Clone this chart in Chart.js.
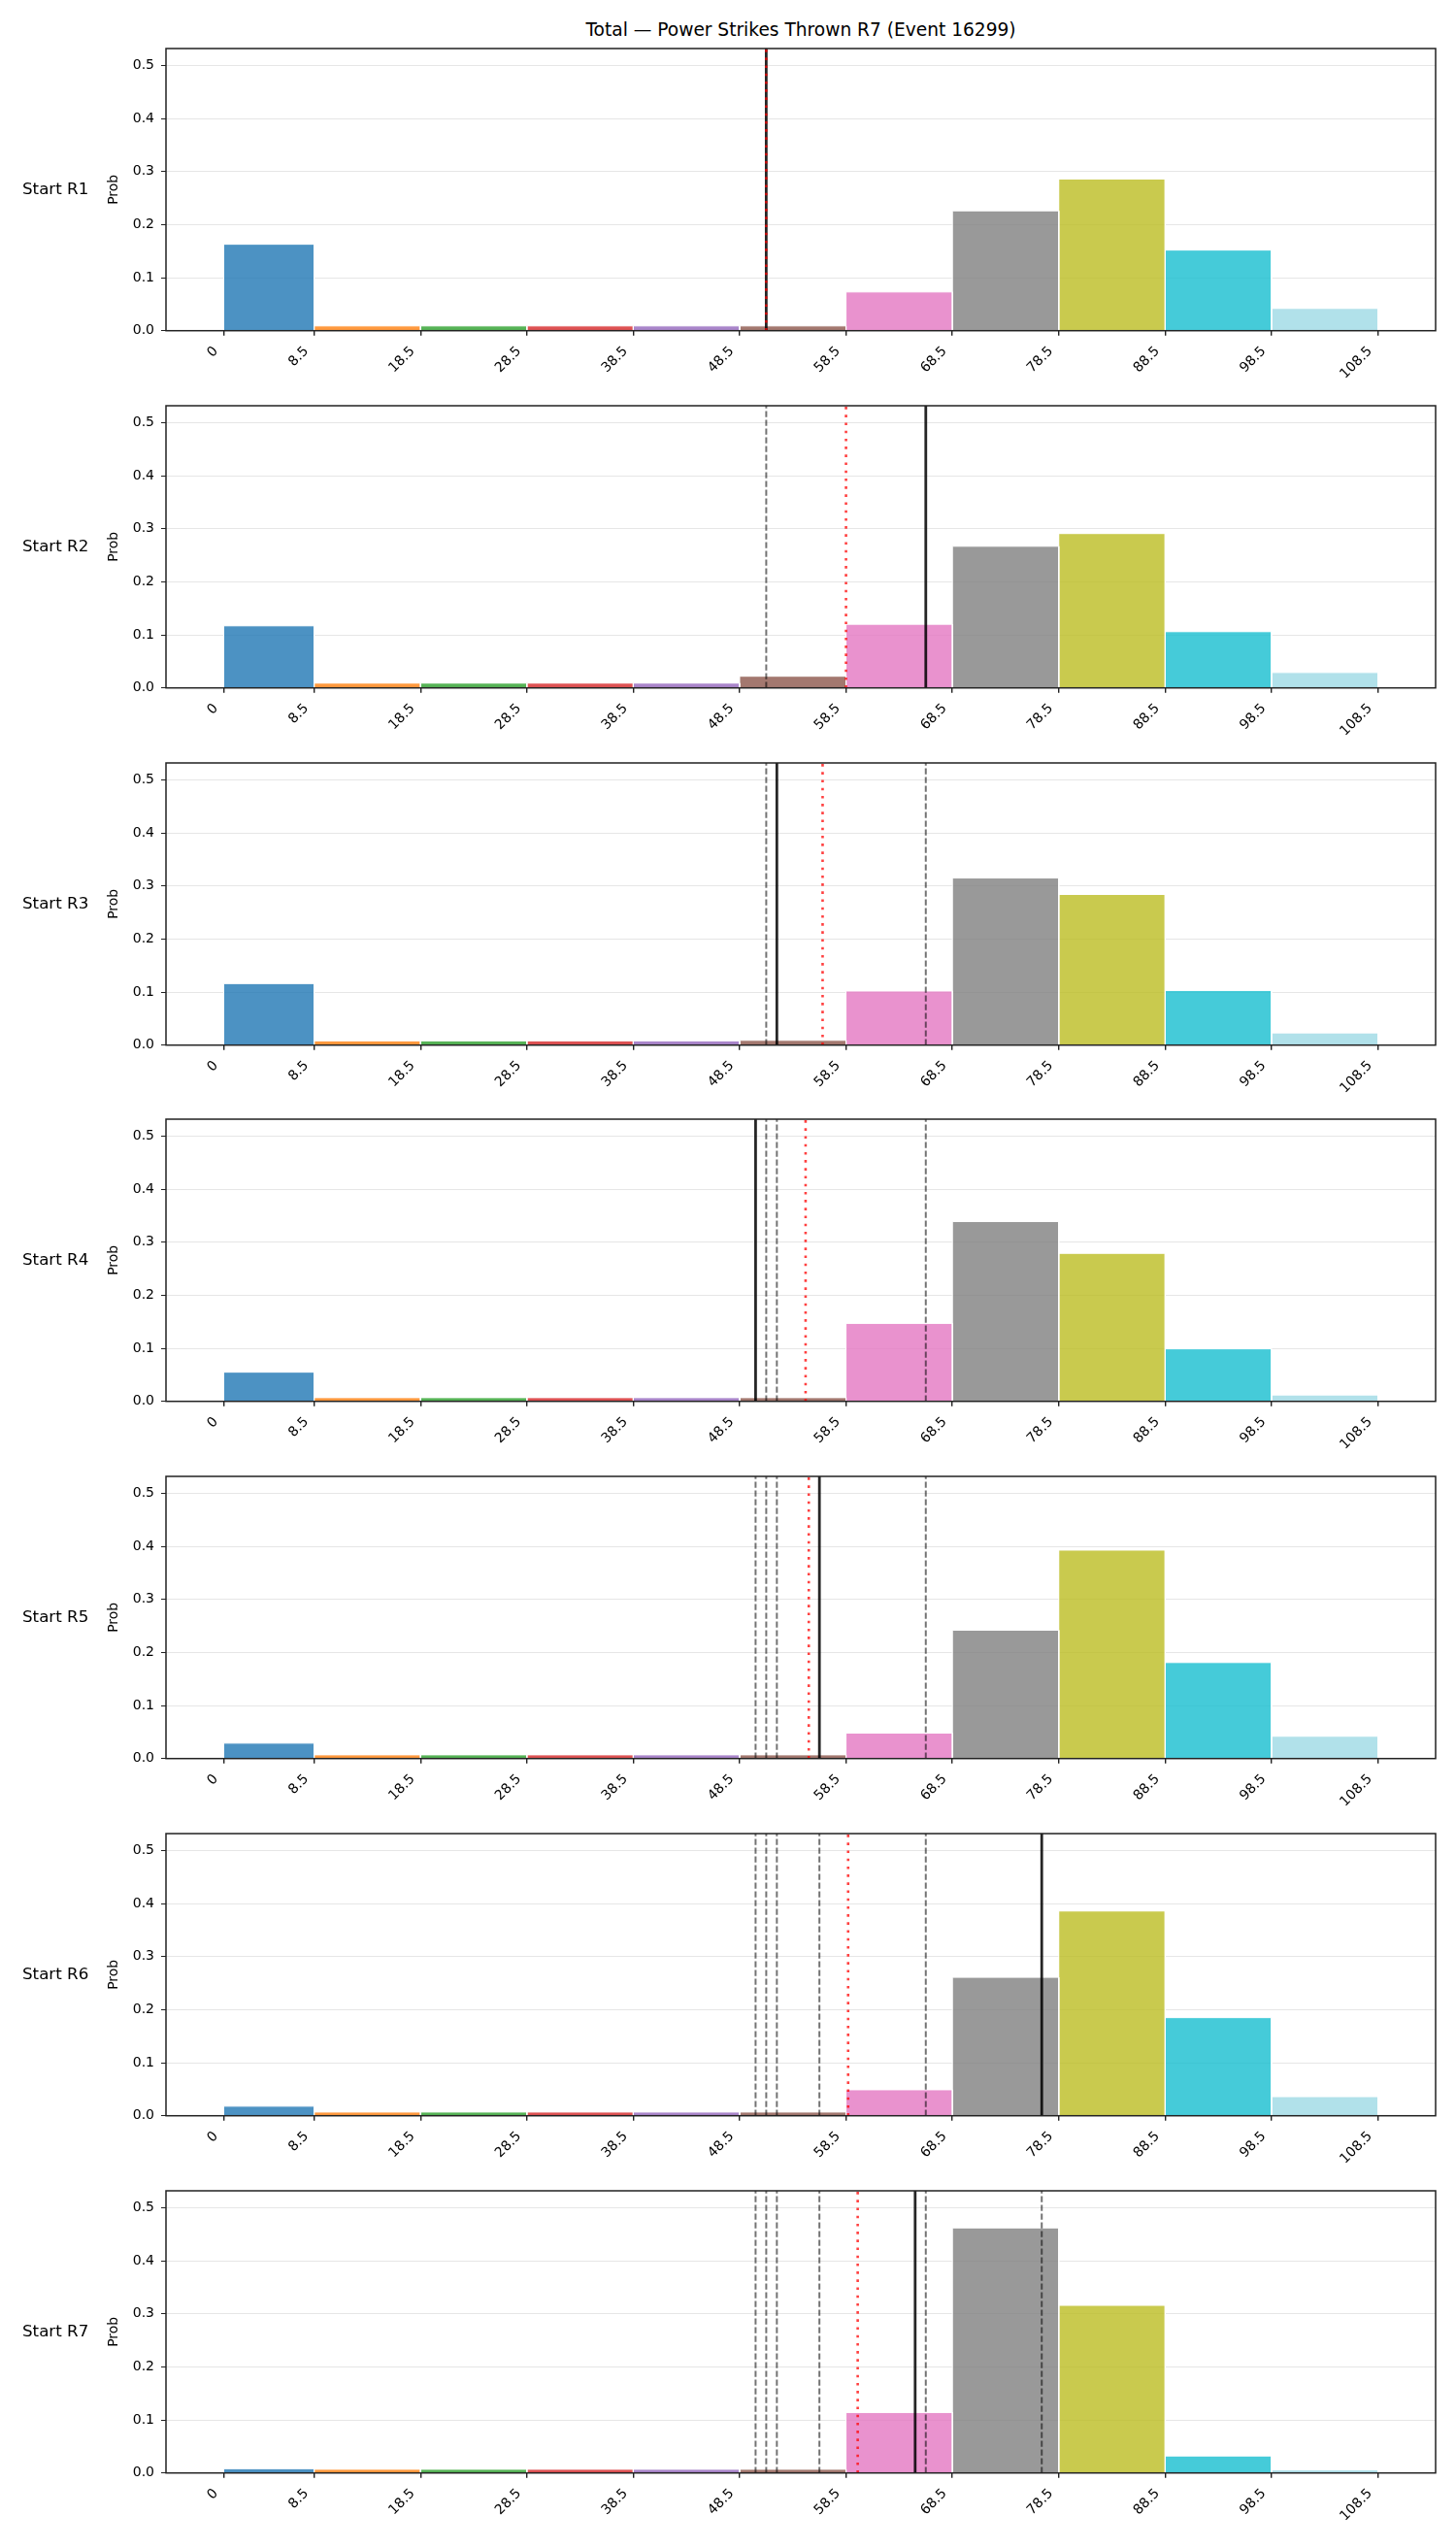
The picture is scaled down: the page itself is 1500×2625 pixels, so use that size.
<!DOCTYPE html>
<html lang="en">
<head>
<meta charset="UTF-8">
<title>Total — Power Strikes Thrown R7 (Event 16299)</title>
<style>
  html, body { margin: 0; padding: 0; background: #fff; }
  body { width: 1500px; height: 2625px; position: relative; overflow: hidden; font-family: 'DejaVu Sans', sans-serif; color: #000; }
  .title { position: absolute; left: 171px; width: 1308px; top: 20px; text-align: center; font-size: 18.6px; line-height: 22px; white-space: nowrap; }
  .row-label { position: absolute; left: 23px; font-size: 16.7px; line-height: 20px; white-space: nowrap; }
  canvas { position: absolute; left: 0; }
</style>
</head>
<body>
<div class="title">Total — Power Strikes Thrown R7 (Event 16299)</div>
<div id="plots"></div>

<script src="https://cdn.jsdelivr.net/npm/chart.js"></script>
<script>
// bin edges of the histogram (first bin is 0 - 8.5)
const binEdges = [0, 8.5, 18.5, 28.5, 38.5, 48.5, 58.5, 68.5, 78.5, 88.5, 98.5, 108.5];
const binColors = ['#1f77b4', '#ff7f0e', '#2ca02c', '#d62728', '#9467bd', '#8c564b',
                   '#e377c2', '#7f7f7f', '#bcbd22', '#17becf', '#9edae5'];
const rowLabels = ['Start R1', 'Start R2', 'Start R3', 'Start R4', 'Start R5', 'Start R6', 'Start R7'];
const yTicks = [0, 0.1, 0.2, 0.3, 0.4, 0.5];

// probability per bin, one array per starting round
const probR1 = [0.163, 0.009, 0.009, 0.009, 0.009, 0.009, 0.073, 0.226, 0.286, 0.152, 0.042];
const probR2 = [0.117, 0.009, 0.009, 0.009, 0.009, 0.022, 0.120, 0.267, 0.291, 0.106, 0.029];
const probR3 = [0.116, 0.008, 0.008, 0.008, 0.008, 0.009, 0.102, 0.315, 0.284, 0.103, 0.023];
const probR4 = [0.055, 0.007, 0.007, 0.007, 0.007, 0.007, 0.147, 0.339, 0.279, 0.099, 0.012];
const probR5 = [0.029, 0.007, 0.007, 0.007, 0.007, 0.007, 0.048, 0.242, 0.393, 0.181, 0.042];
const probR6 = [0.018, 0.007, 0.007, 0.007, 0.007, 0.007, 0.049, 0.261, 0.386, 0.185, 0.036];
const probR7 = [0.008, 0.007, 0.007, 0.007, 0.007, 0.007, 0.114, 0.462, 0.316, 0.032, 0.006];
const rowProbs = [probR1, probR2, probR3, probR4, probR5, probR6, probR7];

// solid black marker per row (earlier rows come back as grey dashed lines)
const currentMark = [51.0, 66.0, 52.0, 50.0, 56.0, 76.9, 65.0];
// red dotted marker per row
const refMark = [51.0, 58.5, 56.3, 54.7, 55.0, 58.7, 59.6];

const yMax = 0.532;
const xMin = -5.425;
const xMax = 113.925;
const rowStep = 367.8;
const FONT = 'DejaVu Sans';

function withAlpha(hex, a) {
    const n = parseInt(hex.slice(1), 16);
    return `rgba(${(n >> 16) & 255}, ${(n >> 8) & 255}, ${n & 255}, ${a})`;
}

const binDatasets = (probs) => probs.map((p, i) => ({
    data: [
        { x: binEdges[i], y: 0 },
        { x: binEdges[i], y: p },
        { x: binEdges[i + 1], y: p },
        { x: binEdges[i + 1], y: 0 },
    ],
    backgroundColor: withAlpha(binColors[i], 0.8),
    borderColor: '#ffffff',
    borderWidth: 1,
    fill: 'origin',
    pointRadius: 0,
    tension: 0,
    order: 10,
}));

const vline = (x, style) => Object.assign({
    data: [{ x: x, y: 0 }, { x: x, y: yMax }],
    fill: false,
    pointRadius: 0,
    tension: 0,
}, style);

// draws the four spines around the plot area
const framePlugin = {
    id: 'frame',
    afterDatasetsDraw(chart) {
        const { ctx, chartArea: a } = chart;
        ctx.save();
        ctx.strokeStyle = '#222';
        ctx.lineWidth = 1.5;
        ctx.strokeRect(a.left, a.top, a.right - a.left, a.bottom - a.top);
        ctx.restore();
    },
};

const makeRow = (i) => {
    const top = Math.round(rowStep * i);
    const canvas = document.createElement('canvas');
    canvas.width = 1500;
    canvas.height = 418;
    canvas.style.width = '1500px';
    canvas.style.height = '418px';
    canvas.style.top = top + 'px';
    document.getElementById('plots').appendChild(canvas);

    const label = document.createElement('div');
    label.className = 'row-label';
    label.textContent = rowLabels[i];
    label.style.top = (184 + rowStep * i) + 'px';
    document.getElementById('plots').appendChild(label);

    const datasets = binDatasets(rowProbs[i]);
    currentMark.slice(0, i).forEach(v => {
        datasets.push(vline(v, { borderColor: 'rgba(0,0,0,0.55)', borderWidth: 2, borderDash: [6.2, 2.8], order: 3 }));
    });
    datasets.push(vline(currentMark[i], { borderColor: 'rgba(0,0,0,0.85)', borderWidth: 2.8, order: 2 }));
    datasets.push(vline(refMark[i], { borderColor: 'rgba(255,0,0,0.75)', borderWidth: 2.6, borderDash: [2.6, 5.6], order: 1 }));

    return new Chart(canvas.getContext('2d'), {
        type: 'line',
        data: { datasets },
        plugins: [framePlugin],
        options: {
            responsive: false,
            animation: false,
            events: [],
            layout: { padding: { top: 50, left: 100, right: 21, bottom: 0 } },
            plugins: {
                legend: { display: false },
                tooltip: { enabled: false },
            },
            scales: {
                x: {
                    type: 'linear',
                    min: xMin,
                    max: xMax,
                    bounds: 'data',
                    afterBuildTicks: (s) => { s.ticks = binEdges.map(v => ({ value: v })); },
                    afterFit: (s) => { s.height = 77.3; },
                    border: { display: false },
                    grid: { drawOnChartArea: false, color: '#222', tickColor: '#222', tickLength: 5, lineWidth: 1.4 },
                    ticks: {
                        autoSkip: false,
                        minRotation: 45,
                        maxRotation: 45,
                        padding: 8,
                        labelOffset: -8,
                        color: '#000',
                        font: { family: FONT, size: 14 },
                        callback: (v) => String(v),
                    },
                },
                y: {
                    min: 0,
                    max: yMax,
                    bounds: 'data',
                    afterBuildTicks: (s) => { s.ticks = yTicks.map(v => ({ value: v })); },
                    afterFit: (s) => { s.width = 71; },
                    border: { display: false },
                    grid: { color: '#e6e6e6', lineWidth: 1, tickColor: '#222', tickLength: 5 },
                    ticks: {
                        padding: 7,
                        color: '#000',
                        font: { family: FONT, size: 14 },
                        callback: (v) => v.toFixed(1),
                    },
                    title: {
                        display: true,
                        text: 'Prob',
                        color: '#000',
                        font: { family: FONT, size: 13.9 },
                        padding: { top: 8.7, bottom: 0 },
                    },
                },
            },
        },
    });
};

window.onload = () => {
    rowLabels.forEach((_, i) => makeRow(i));
};
</script>
</body>
</html>
